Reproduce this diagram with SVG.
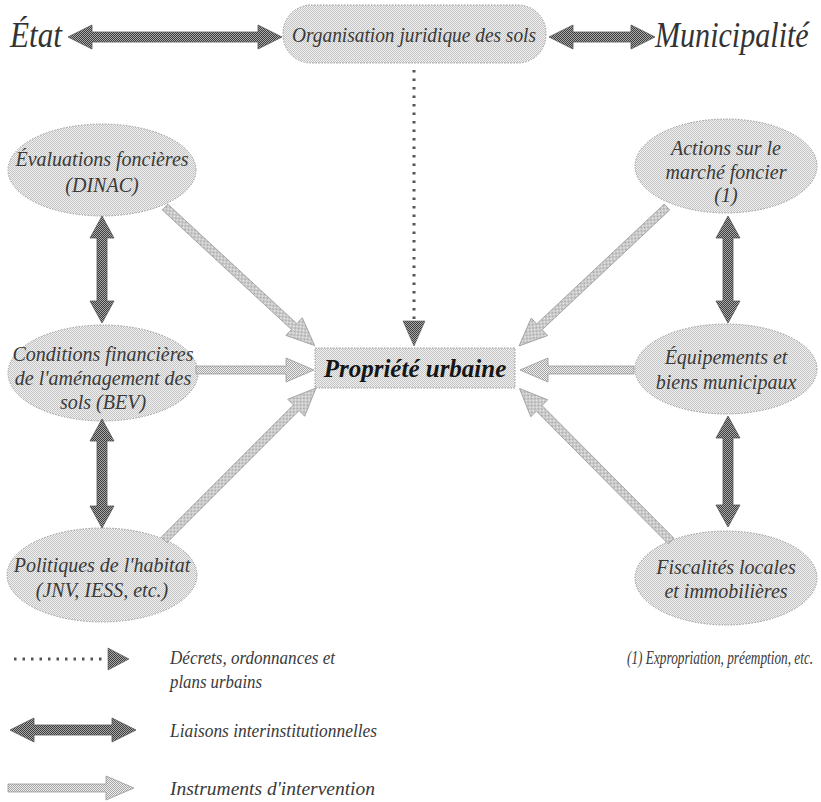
<svg xmlns="http://www.w3.org/2000/svg" width="821" height="802" viewBox="0 0 821 802">
<defs>
<pattern id="pNode" width="2" height="2" patternUnits="userSpaceOnUse">
<rect width="2" height="2" fill="#f0f0f0"/><rect width="1" height="1" fill="#c4c4c4"/><rect x="1" y="1" width="1" height="1" fill="#c4c4c4"/>
</pattern>
<pattern id="pDark" width="2" height="2" patternUnits="userSpaceOnUse">
<rect width="2" height="2" fill="#a9a9a9"/><rect width="1" height="1" fill="#3e3e3e"/><rect x="1" y="1" width="1" height="1" fill="#3e3e3e"/>
</pattern>
<pattern id="pLight" width="2" height="2" patternUnits="userSpaceOnUse">
<rect width="2" height="2" fill="#efefef"/><rect width="1" height="1" fill="#a4a4a4"/><rect x="1" y="1" width="1" height="1" fill="#a4a4a4"/>
</pattern>
</defs>
<style>
.node{fill:url(#pNode);stroke:#9a9a9a;stroke-width:1;stroke-dasharray:1.5 1.5}
.t{font-family:"Liberation Serif","Times New Roman",serif;font-style:italic;fill:#3a3a3a;text-anchor:middle;font-size:20px}
.big{font-family:"Liberation Serif","Times New Roman",serif;font-style:italic;fill:#333;font-size:35px}
.leg{font-family:"Liberation Serif","Times New Roman",serif;font-style:italic;fill:#3a3a3a;font-size:19px}
.dark{fill:url(#pDark);stroke:#555;stroke-width:0.8}
.light{fill:url(#pLight);stroke:#9a9a9a;stroke-width:0.8}
.dots{stroke:#555;stroke-width:3;stroke-dasharray:2.5 6;fill:none}
.head{fill:url(#pDark);stroke:#555;stroke-width:0.6}
</style>
<rect width="821" height="802" fill="#ffffff"/>

<g id="etat"><text class="big" x="10" y="47" textLength="52" lengthAdjust="spacingAndGlyphs">État</text></g>
<g id="municipalite"><text class="big" transform="translate(655,47) scale(0.86,1)" x="0" y="0">Municipalité</text></g>
<g id="organisation">
<rect class="node" x="283" y="5" width="263" height="58" rx="28" ry="28"/>
<text class="t" x="414" y="42" font-size="19" textLength="244" lengthAdjust="spacingAndGlyphs">Organisation juridique des sols</text>
</g>
<g id="propriete">
<rect class="node" x="315" y="348" width="200" height="40"/>
<text x="415" y="377" text-anchor="middle" font-family="Liberation Serif, Times New Roman, serif" font-style="italic" font-weight="bold" font-size="25" fill="#151515">Propriété urbaine</text>
</g>
<g id="evaluations">
<ellipse class="node" cx="102" cy="170" rx="94" ry="46"/>
<text class="t" x="102" y="166">Évaluations foncières</text>
<text class="t" x="102" y="192">(DINAC)</text>
</g>
<g id="conditions">
<ellipse class="node" cx="103" cy="373" rx="95" ry="48"/>
<text class="t" x="103" y="361">Conditions financières</text>
<text class="t" x="103" y="385">de l'aménagement des</text>
<text class="t" x="103" y="409">sols (BEV)</text>
</g>
<g id="politiques">
<ellipse class="node" cx="102" cy="575" rx="95" ry="47"/>
<text class="t" x="102" y="572">Politiques de l'habitat</text>
<text class="t" x="102" y="597">(JNV, IESS, etc.)</text>
</g>
<g id="actions">
<ellipse class="node" cx="726" cy="166" rx="91" ry="47"/>
<text class="t" x="726" y="155">Actions sur le</text>
<text class="t" x="726" y="179">marché foncier</text>
<text class="t" x="726" y="202">(1)</text>
</g>
<g id="equipements">
<ellipse class="node" cx="726" cy="369" rx="91" ry="45"/>
<text class="t" x="726" y="364">Équipements et</text>
<text class="t" x="726" y="389">biens municipaux</text>
</g>
<g id="fiscalites">
<ellipse class="node" cx="726" cy="578" rx="91" ry="47"/>
<text class="t" x="726" y="574">Fiscalités locales</text>
<text class="t" x="726" y="598">et immobilières</text>
</g>

<g id="connectors">
<polygon class="dark" transform="translate(68,37)" points="0,0 24,-12 24,-5 190,-5 190,-12 214,0 190,12 190,5 24,5 24,12"/>
<polygon class="dark" transform="translate(549,37)" points="0,0 24,-12 24,-5 82,-5 82,-12 106,0 82,12 82,5 24,5 24,12"/>
<line class="dots" x1="414" y1="70" x2="414" y2="320"/>
<polygon class="head" points="403,321 425,321 414,346"/>
<polygon class="dark" transform="translate(102,216) rotate(90)" points="0,0 22,-12 22,-5 85,-5 85,-12 107,0 85,12 85,5 22,5 22,12"/>
<polygon class="dark" transform="translate(102,419) rotate(90)" points="0,0 22,-12 22,-5 87,-5 87,-12 109,0 87,12 87,5 22,5 22,12"/>
<polygon class="dark" transform="translate(728,216) rotate(90)" points="0,0 22,-12 22,-5 85,-5 85,-12 107,0 85,12 85,5 22,5 22,12"/>
<polygon class="dark" transform="translate(728,416) rotate(90)" points="0,0 22,-12 22,-5 89,-5 89,-12 111,0 89,12 89,5 22,5 22,12"/>
<polygon class="light" transform="translate(165,207) rotate(42.8)" points="0,-4 176,-4 176,-12 204,0 176,12 176,4 0,4"/>
<polygon class="light" transform="translate(196,370)" points="0,-4 90,-4 90,-12 118,0 90,12 90,4 0,4"/>
<polygon class="light" transform="translate(164,540) rotate(-45)" points="0,-4 187,-4 187,-12 215,0 187,12 187,4 0,4"/>
<polygon class="light" transform="translate(667,207) rotate(136.8)" points="0,-4 175,-4 175,-12 203,0 175,12 175,4 0,4"/>
<polygon class="light" transform="translate(634,370) rotate(180)" points="0,-4 86,-4 86,-12 114,0 86,12 86,4 0,4"/>
<polygon class="light" transform="translate(671,541) rotate(-134.8)" points="0,-4 187,-4 187,-12 215,0 187,12 187,4 0,4"/>
</g>

<g id="legend">
<line class="dots" x1="14" y1="659" x2="106" y2="659"/>
<polygon class="head" points="108,648 108,670 129,659"/>
<text class="leg" x="170" y="664" textLength="165" lengthAdjust="spacingAndGlyphs">Décrets, ordonnances et</text>
<text class="leg" x="170" y="688" textLength="92" lengthAdjust="spacingAndGlyphs">plans urbains</text>
<polygon class="dark" transform="translate(10,730)" points="0,0 24,-12 24,-5 102,-5 102,-12 126,0 102,12 102,5 24,5 24,12"/>
<text class="leg" x="170" y="737" textLength="207" lengthAdjust="spacingAndGlyphs">Liaisons interinstitutionnelles</text>
<polygon class="light" transform="translate(8,788)" points="0,-4 98,-4 98,-12 126,0 98,12 98,4 0,4"/>
<text class="leg" x="170" y="795" textLength="205" lengthAdjust="spacingAndGlyphs">Instruments d'intervention</text>
<text class="leg" transform="translate(627,664) scale(0.7,1)" x="0" y="0">(1) Expropriation, préemption, etc.</text>
</g>
</svg>
